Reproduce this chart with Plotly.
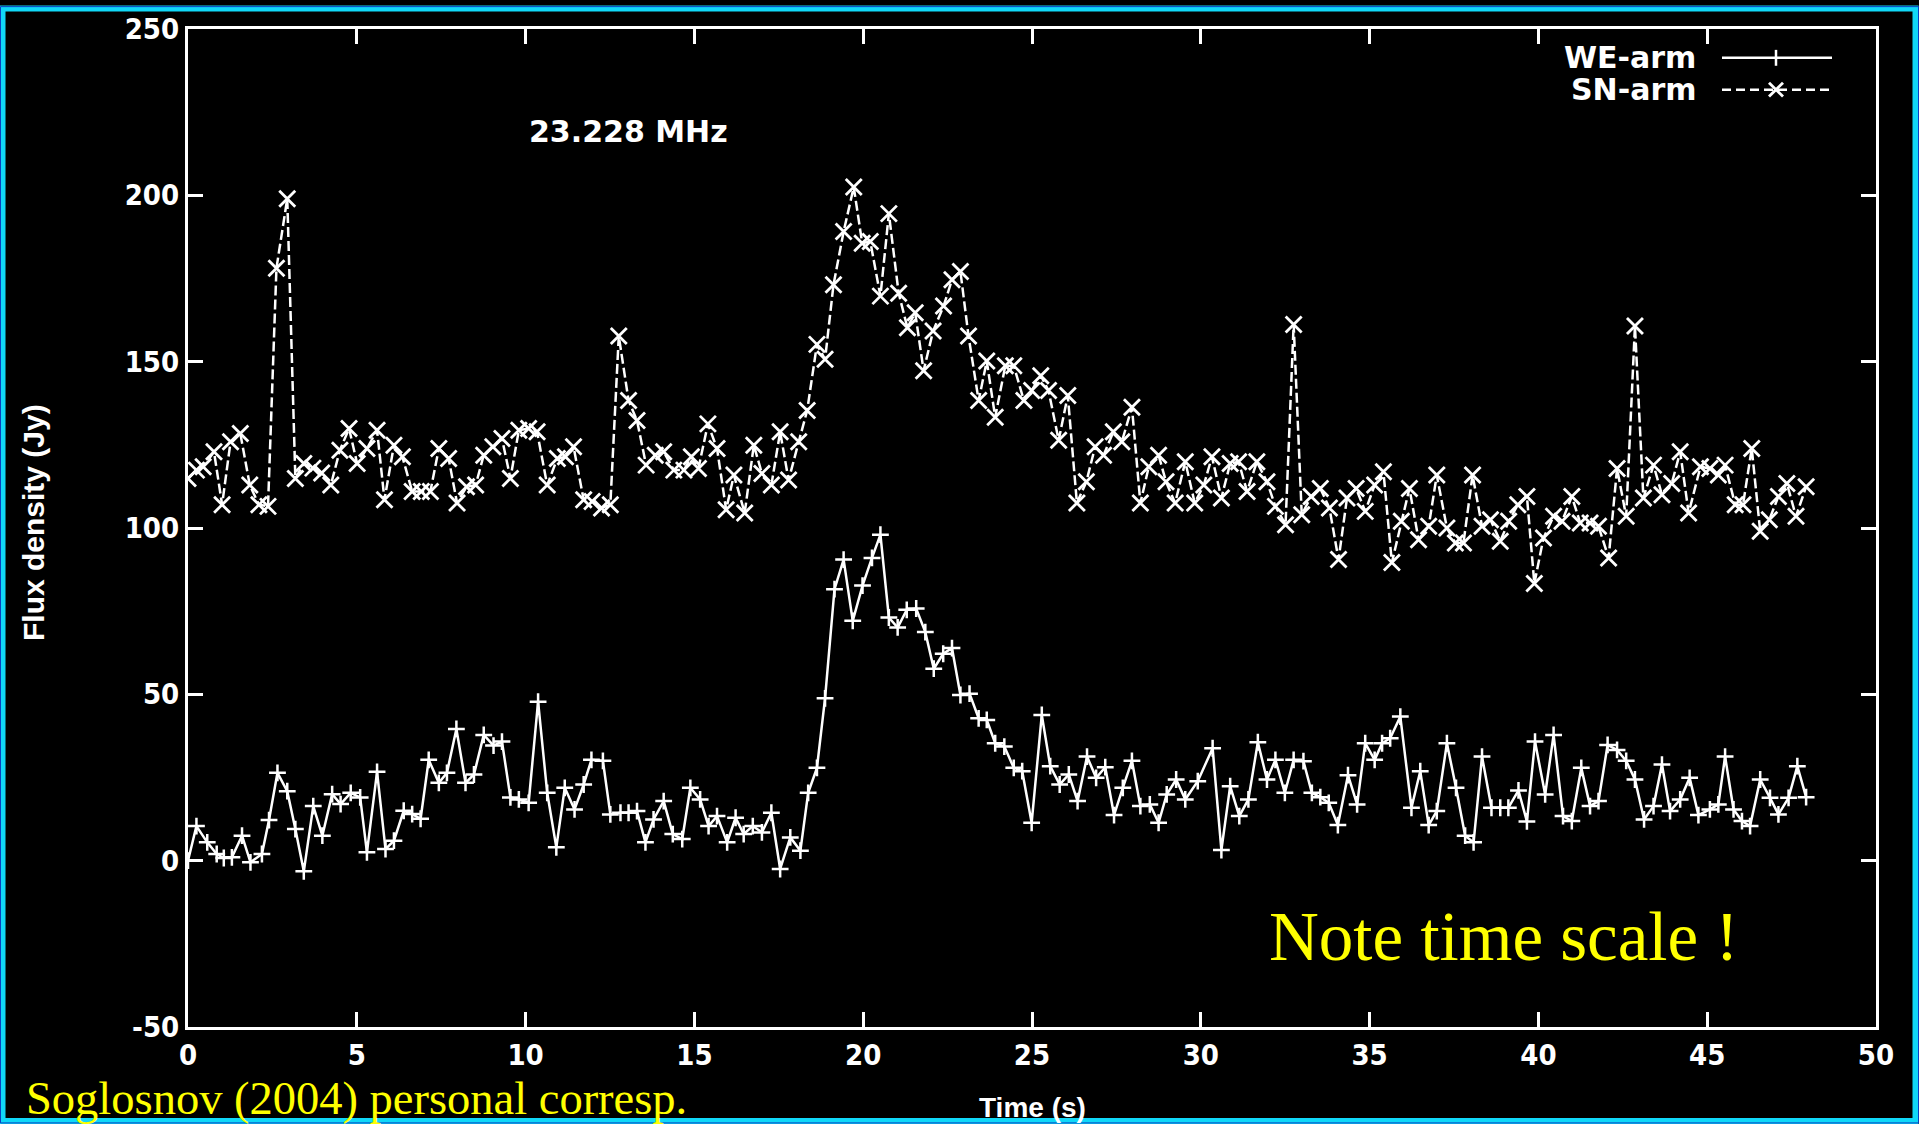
import plotly.graph_objects as go

# ---------------- data ----------------
we_t = [0.00, 0.25, 0.57, 0.85, 1.06, 1.30, 1.60, 1.85, 2.19, 2.40, 2.65, 2.94, 3.18, 3.43, 3.71, 3.98,
        4.27, 4.52, 4.82, 5.10, 5.30, 5.60, 5.85, 6.10, 6.39, 6.64, 6.89, 7.13, 7.43, 7.67, 7.95, 8.22,
        8.47, 8.76, 9.05, 9.30, 9.55, 9.80, 10.09, 10.37, 10.64, 10.91, 11.16, 11.45, 11.72, 11.95,
        12.29, 12.51, 12.81, 13.05, 13.30, 13.55, 13.79, 14.09, 14.36, 14.64, 14.88, 15.17, 15.42,
        15.67, 15.97, 16.22, 16.46, 16.73, 17.00, 17.28, 17.54, 17.84, 18.14, 18.37, 18.63, 18.87,
        19.15, 19.42, 19.69, 19.98, 20.26, 20.51, 20.76, 21.02, 21.29, 21.57, 21.84, 22.09, 22.37,
        22.63, 22.88, 23.15, 23.42, 23.66, 23.91, 24.18, 24.46, 24.71, 24.99, 25.29, 25.54, 25.82,
        26.09, 26.35, 26.63, 26.90, 27.17, 27.43, 27.69, 27.96, 28.21, 28.49, 28.75, 28.99, 29.27,
        29.54, 29.91, 30.35, 30.61, 30.87, 31.14, 31.41, 31.69, 31.96, 32.21, 32.49, 32.75, 33.04,
        33.29, 33.54, 33.79, 34.06, 34.36, 34.63, 34.87, 35.15, 35.37, 35.61, 35.91, 36.24, 36.50,
        36.75, 36.99, 37.29, 37.56, 37.83, 38.08, 38.33, 38.61, 38.87, 39.11, 39.41, 39.66, 39.90,
        40.20, 40.45, 40.73, 40.99, 41.27, 41.53, 41.78, 42.05, 42.33, 42.60, 42.86, 43.13, 43.41,
        43.66, 43.90, 44.20, 44.48, 44.74, 45.08, 45.33, 45.53, 45.78, 46.03, 46.27, 46.57, 46.86,
        47.11, 47.41, 47.67, 47.93]
we_flux = [0, 10.4, 5.5, 2, 0.8, 1, 7.5, -0.5, 2, 12.2, 26.4, 20.9, 9.5, -3.2, 16.4, 7.5,
           20, 17, 20.4, 19, 2.5, 26.7, 3.5, 6, 15, 14, 12.6, 30.3, 23.4, 26.4, 39.6, 23.4,
           25.9, 37.8, 34.6, 35.8, 19, 18.4, 17.4, 47.8, 20.4, 4, 21.9, 15.4, 22.9, 30.3,
           30, 13.9, 14.4, 14.4, 14.9, 5.5, 12.4, 17.9, 8, 6.5, 21.9, 18.4, 10.4,
           13.4, 5.5, 12.9, 8, 10.4, 8.5, 14.4, -2.5, 7, 3, 20.4, 27.9, 48.8,
           81.6, 90.5, 72.1, 82.7, 91, 98, 73.1, 70.1, 75.4, 75.8, 68.7, 57.7, 62.2,
           63.9, 49.8, 50.2, 42.8, 42.3, 35.3, 34.3, 27.9, 26.9, 11.4, 43.8, 28.4, 22.9,
           25.9, 17.9, 31.3, 24.9, 28.1, 13.7, 21.9, 30, 16.4, 16.9, 11.4, 19.9, 24.4,
           18.4, 23.9, 33.8, 3.2, 22.4, 13.4, 18.4, 35.6, 24.4, 30.3, 20.4, 30.3, 29.9,
           20.4, 19.1, 17.4, 10.7, 25.7, 16.9, 35.3, 30.3, 35.3, 36.8, 43.3, 15.9, 26.9,
           10.7, 14.9, 35.3, 21.9, 7.5, 5.5, 31.3, 15.9, 15.9, 15.9, 21.1, 11.8, 35.8,
           19.9, 37.8, 13.4, 11.9, 27.9, 16.4, 17.9, 34.8, 33.3, 30, 24.4, 12.4, 16.4,
           28.9, 14.9, 18.4, 24.9, 13.7, 15.4, 16.9, 31.3, 15.4, 11.9, 10.4, 24.4, 18.9,
           13.9, 18.9, 28.4, 19.1]

sn_t = [0.00, 0.25, 0.45, 0.77, 1.01, 1.26, 1.55, 1.83, 2.10, 2.37, 2.62, 2.94, 3.18, 3.43, 3.70,
        3.96, 4.23, 4.50, 4.77, 5.01, 5.30, 5.60, 5.82, 6.10, 6.35, 6.64, 6.91, 7.18, 7.43, 7.72,
        7.97, 8.25, 8.52, 8.76, 9.03, 9.30, 9.55, 9.80, 10.09, 10.34, 10.64, 10.94, 11.18, 11.42,
        11.72, 11.97, 12.25, 12.51, 12.76, 13.05, 13.30, 13.57, 13.84, 14.09, 14.39, 14.69, 14.91,
        15.12, 15.40, 15.67, 15.94, 16.17, 16.49, 16.76, 17.00, 17.28, 17.54, 17.79, 18.09, 18.34,
        18.63, 18.87, 19.12, 19.42, 19.72, 19.97, 20.21, 20.51, 20.76, 21.05, 21.31, 21.54, 21.79,
        22.07, 22.38, 22.63, 22.88, 23.12, 23.42, 23.66, 23.91, 24.21, 24.46, 24.76, 24.99, 25.26,
        25.49, 25.79, 26.06, 26.33, 26.61, 26.87, 27.12, 27.41, 27.66, 27.96, 28.21, 28.46, 28.75,
        28.97, 29.24, 29.54, 29.82, 30.09, 30.33, 30.61, 30.87, 31.12, 31.37, 31.66, 31.96, 32.21,
        32.51, 32.75, 32.99, 33.27, 33.54, 33.81, 34.08, 34.33, 34.60, 34.87, 35.15, 35.41, 35.66,
        35.94, 36.18, 36.45, 36.75, 36.99, 37.29, 37.54, 37.78, 38.05, 38.33, 38.58, 38.87, 39.12,
        39.39, 39.66, 39.88, 40.15, 40.45, 40.70, 40.99, 41.24, 41.53, 41.78, 42.08, 42.33, 42.60,
        42.86, 43.11, 43.41, 43.66, 43.95, 44.20, 44.45, 44.80, 45.08, 45.33, 45.53, 45.83, 46.06,
        46.32, 46.57, 46.84, 47.11, 47.36, 47.63, 47.93]
sn_flux = [114.9, 117.4, 118.4, 122.9, 107, 125.9, 128.4, 112.9, 107, 106.5, 178.1, 199, 114.9, 119.4, 118,
           116.5, 112.9, 123.4, 129.9, 119.4, 123.9, 129.4, 108.5, 124.9, 121.4, 111, 111, 111, 123.9, 120.9,
           107.5, 112.4, 112.9, 121.9, 124.4, 126.9, 114.9, 129.4, 129.9, 128.9, 112.9, 120.9, 121.4, 124.4,
           108.5, 108, 106, 107, 157.7, 138.3, 132.3, 118.9, 121.9, 122.9, 117.4, 117.4, 121.4,
           117.9, 131.3, 123.9, 105.5, 115.9, 104.5, 124.9, 116.4, 112.9, 128.9, 114.4, 125.9, 135.3,
           155.2, 150.7, 173.1, 189.1, 202.5, 185.6, 186.1, 169.7, 194.5, 170.6, 160.2, 164.7, 147.3,
           159.2, 166.7, 174.6, 177.1, 157.7, 138.3, 150.2, 133.3, 148.8, 148.8, 138.3, 141.3, 145.8,
           141.3, 126.4, 139.8, 107.5, 113.9, 124.4, 121.9, 128.9, 125.9, 136.3, 107.5, 118.4, 121.9,
           113.9, 107.5, 119.9, 107.5, 112.9, 121.4, 109, 119.4, 119.9, 111, 119.9, 113.9, 106.5,
           101, 161.2, 104, 109.5, 111.9, 106, 90.5, 109, 111.9, 105, 112.9, 116.9, 89.6,
           102, 111.9, 96.5, 100.5, 115.9, 100, 95.5, 95.5, 115.9, 100.5, 102.5, 96, 102,
           107, 109.5, 83.3, 97, 103.5, 102, 109.5, 101.5, 101.5, 100.5, 91, 117.9, 103.5,
           160.7, 109, 118.9, 110, 113.4, 122.9, 104.5, 118.4, 117.9, 115.9, 118.9, 107, 107,
           123.9, 99, 102.5, 109.5, 113.4, 103.5, 112.4]

x_ticks = [0, 5, 10, 15, 20, 25, 30, 35, 40, 45, 50]
x_tick_labels = ["0", "5", "10", "15", "20", "25", "30", "35", "40", "45", "50"]
y_ticks = [-50, 0, 50, 100, 150, 200, 250]
y_tick_labels = ["-50", "0", "50", "100", "150", "200", "250"]
series_names = ["WE-arm", "SN-arm"]
freq_label = "23.228 MHz"
note_text = "Note time scale !"
credit_text = "Soglosnov (2004) personal corresp."

# ---------------- layout geometry (pixels) ----------------
W, H = 1919, 1124
ML, MR, MT, MB = 188, 43, 23, 97
PW, PH = W - ML - MR, H - MT - MB


def px(x):
    return (x - ML) / PW


def py(y):
    return (H - MB - y) / PH


TICK_FONT = "Liberation Sans Narrow, DejaVu Sans Condensed, Liberation Sans, sans-serif"
BOLD_FONT = "DejaVu Sans"
WHITE = "#ffffff"
YELLOW = "#ffff00"
CYAN = "#10d8f8"

fig = go.Figure()
fig.add_trace(go.Scatter(
    x=we_t, y=we_flux, name=series_names[0], mode="lines+markers",
    line=dict(color=WHITE, width=2.5),
    marker=dict(symbol="cross-thin", size=12, color=WHITE, line=dict(color=WHITE, width=2.5)),
    showlegend=False))
fig.add_trace(go.Scatter(
    x=sn_t, y=sn_flux, name=series_names[1], mode="lines+markers",
    line=dict(color=WHITE, width=2.5, dash="10px,4px"),
    marker=dict(symbol="x-thin", size=16, color=WHITE, line=dict(color=WHITE, width=2.8)),
    showlegend=False))

axis_common = dict(
    showgrid=False, zeroline=False, showline=True, linecolor=WHITE, linewidth=3,
    mirror="ticks", ticks="inside", ticklen=15, tickwidth=2.5, tickcolor=WHITE,
    tickfont=dict(family=TICK_FONT, size=29, color=WHITE, weight="bold"),
)
fig.update_xaxes(range=[0, 50], tickvals=x_ticks, ticktext=x_tick_labels,
                 ticklabelstandoff=0, **axis_common)
fig.update_yaxes(range=[-50, 250], tickvals=y_ticks, ticktext=y_tick_labels,
                 ticklabelstandoff=0, **axis_common)

annotations = [
    dict(text="Time (s)", x=0.5, y=py(1108), xref="paper", yref="paper",
         showarrow=False, font=dict(family="Liberation Sans", size=28, color=WHITE, weight="bold"),
         xanchor="center", yanchor="middle"),
    dict(text="Flux density (Jy)", x=px(33), y=py(520), xref="paper", yref="paper",
         showarrow=False, textangle=-90,
         font=dict(family="Liberation Sans", size=30, color=WHITE, weight="bold"),
         xanchor="center", yanchor="middle"),
    dict(text=freq_label, x=px(628), y=py(126), xref="paper", yref="paper",
         showarrow=False, font=dict(family=BOLD_FONT, size=30, color=WHITE, weight="bold"),
         xanchor="center", yanchor="middle"),
    dict(text=series_names[0], x=px(1698), y=py(52), xref="paper", yref="paper",
         showarrow=False, font=dict(family=BOLD_FONT, size=30, color=WHITE, weight="bold"),
         xanchor="right", yanchor="middle"),
    dict(text=series_names[1], x=px(1698), y=py(84), xref="paper", yref="paper",
         showarrow=False, font=dict(family=BOLD_FONT, size=30, color=WHITE, weight="bold"),
         xanchor="right", yanchor="middle"),
    dict(text=note_text, x=px(1267), y=py(936), xref="paper", yref="paper",
         showarrow=False, font=dict(family="Liberation Serif", size=69, color=YELLOW),
         xanchor="left", yanchor="middle"),
    dict(text=credit_text, x=px(24), y=py(1099), xref="paper", yref="paper",
         showarrow=False, font=dict(family="Liberation Serif", size=46.5, color=YELLOW),
         xanchor="left", yanchor="middle"),
]

shapes = []
# legend samples
shapes.append(dict(type="line", xref="paper", yref="paper", x0=px(1722), x1=px(1832),
                   y0=py(52), y1=py(52), line=dict(color=WHITE, width=2.5)))
shapes.append(dict(type="line", xref="paper", yref="paper", x0=px(1776), x1=px(1776),
                   y0=py(44), y1=py(60), line=dict(color=WHITE, width=2.5)))
shapes.append(dict(type="line", xref="paper", yref="paper", x0=px(1722), x1=px(1832),
                   y0=py(84), y1=py(84), line=dict(color=WHITE, width=2.5, dash="9px,5px")))
shapes.append(dict(type="line", xref="paper", yref="paper", x0=px(1769), x1=px(1783),
                   y0=py(77), y1=py(91), line=dict(color=WHITE, width=2.8)))
shapes.append(dict(type="line", xref="paper", yref="paper", x0=px(1769), x1=px(1783),
                   y0=py(91), y1=py(77), line=dict(color=WHITE, width=2.8)))
# frame border
shapes.append(dict(type="rect", xref="paper", yref="paper", x0=px(2.5), x1=px(W - 3.5),
                   y0=py(H - 2.5), y1=py(2.5), line=dict(color=CYAN, width=6), layer="above"))
shapes.append(dict(type="rect", xref="paper", yref="paper", x0=px(0.5), x1=px(W - 0.5),
                   y0=py(H - 0.5), y1=py(0.5), line=dict(color="#0a40c0", width=1), layer="above"))

fig.update_layout(
    width=W, height=H, autosize=False,
    margin=dict(l=ML, r=MR, t=MT, b=MB, pad=0),
    paper_bgcolor="#000000", plot_bgcolor="#000000",
    annotations=annotations, shapes=shapes, showlegend=False,
)

fig.write_html("out.html", config={"displayModeBar": False})
